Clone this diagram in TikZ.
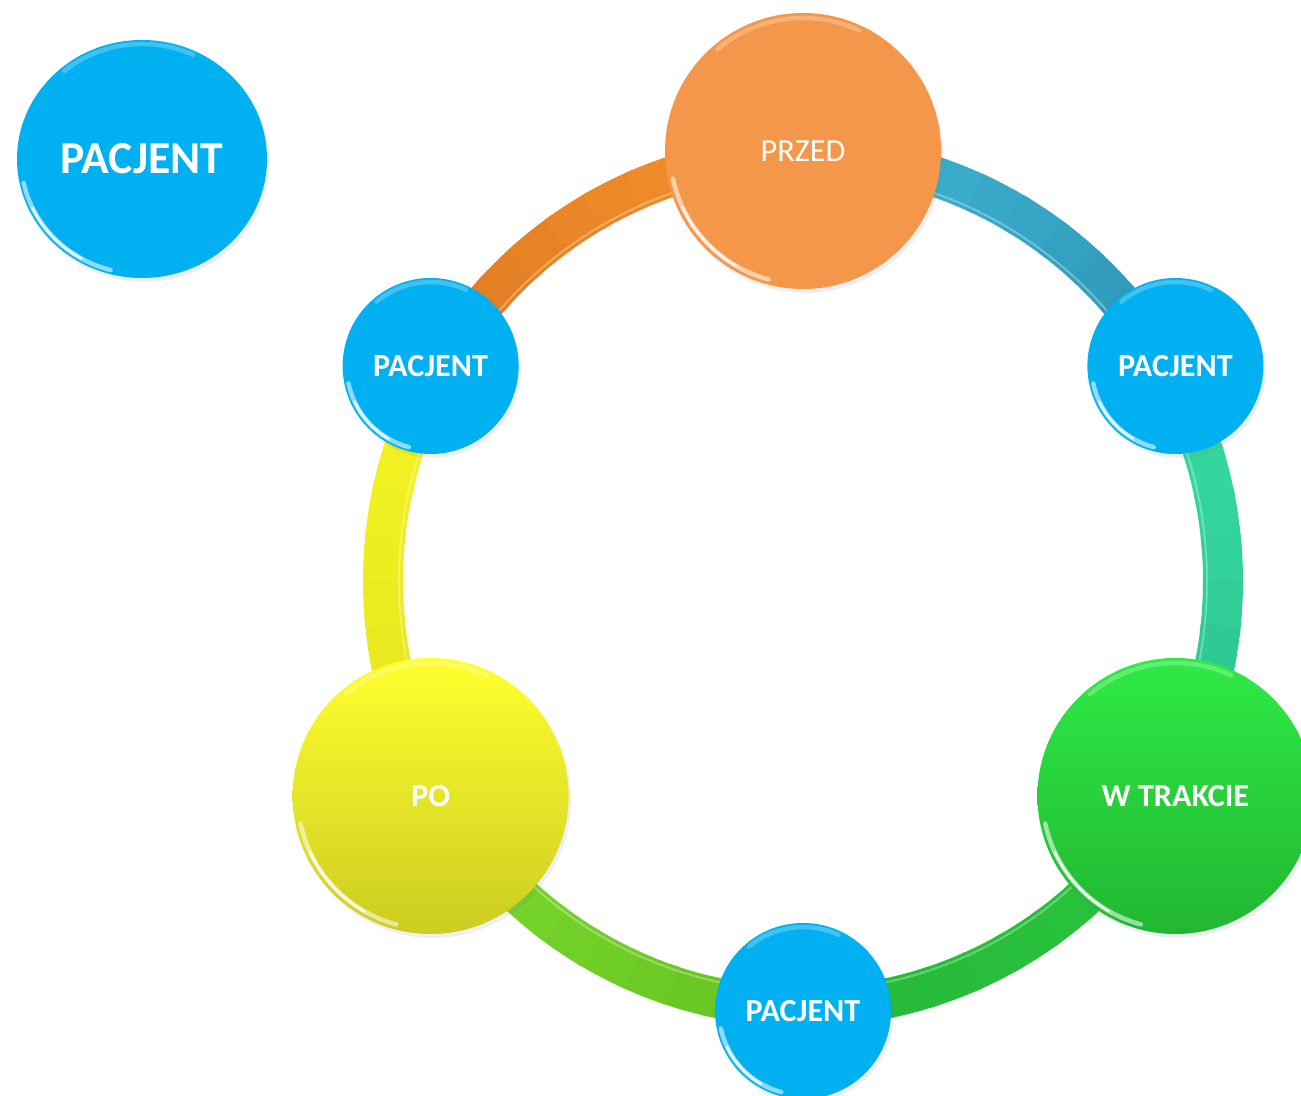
\documentclass[tikz,border=0pt]{standalone}
\usepackage{fontspec}
\setmainfont{Carlito}
\usetikzlibrary{positioning,calc,shapes.geometric,shadows}

\definecolor{pacblue}{HTML}{00B0F0}
\definecolor{przorange}{HTML}{F4974A}
\definecolor{wtA}{HTML}{2EEA46}
\definecolor{wtB}{HTML}{22B632}
\definecolor{poA}{HTML}{FFFF2E}
\definecolor{poB}{HTML}{CCCC22}
% ring colours, A = upper end, B = lower end
\definecolor{tealA}{HTML}{3DB6D6}
\definecolor{tealB}{HTML}{3096B6}
\definecolor{mintA}{HTML}{36DCA4}
\definecolor{mintB}{HTML}{2CC08C}
\definecolor{grnA}{HTML}{2AC43C}
\definecolor{grnB}{HTML}{26B838}
\definecolor{limeA}{HTML}{7CDA2C}
\definecolor{limeB}{HTML}{66C220}
\definecolor{yelA}{HTML}{F6F622}
\definecolor{yelB}{HTML}{E2E21E}
\definecolor{orgA}{HTML}{F7922C}
\definecolor{orgB}{HTML}{E07C22}

\begin{document}
\begin{tikzpicture}[
  x=0.2mm, y=0.2mm,
  bub/.style={circle, inner sep=0pt, text=white,
              font=\fontsize{18.3}{22}\selectfont\bfseries,
              drop shadow={opacity=0.13, shadow xshift=0.5mm, shadow yshift=-0.8mm}},
  pac/.style={bub, minimum size=35.2mm, fill=pacblue},
  hub/.style={bub, minimum size=55.2mm},
  band/.style={line width=8mm, line cap=butt},
  glint/.style={white, line width=0.9mm, line cap=round, opacity=0.55}
]
\useasboundingbox (0,0) rectangle (1301,1096);
\clip (0,0) rectangle (1301,1096);

\coordinate (C) at (803,515);

% ring, one band per step, shaded in short pieces
\foreach \a/\b/\ca/\cb in {90/30/tealA/tealB, 30/-30/mintA/mintB, -30/-90/grnA/grnB,
                           -90/-150/limeB/limeA, -150/-210/yelB/yelA, -210/-270/orgB/orgA} {
  \foreach \k in {0,...,9} {
    \pgfmathsetmacro\s{\a+(\b-\a)*\k/10}
    \pgfmathsetmacro\e{\a+(\b-\a)*(\k+1.2)/10}
    \pgfmathtruncatemacro\p{100-\k*11}
    \draw[band, \ca!\p!\cb] ($(C)+(\s:420 and 426)$)
      arc[start angle=\s, end angle=\e, x radius=420, y radius=426];
  }
}
\draw[white, opacity=0.3, line width=0.4mm] (C) ellipse[x radius=404, y radius=410];

% steps on the ring
\node[hub, fill=przorange, font=\fontsize{18.3}{22}\selectfont] (pz) at ($(C)+(90:430)$) {PRZED};
\node[pac] (p1) at ($(C)+(30:430)$) {PACJENT};
\node[hub, shading=axis, top color=wtA, bottom color=wtB] (wt) at ($(C)+(-30:430)$) {W TRAKCIE};
\node[pac] (p2) at ($(C)+(-90:430)$) {PACJENT};
\node[hub, shading=axis, top color=poA, bottom color=poB] (po) at ($(C)+(210:430)$) {PO};
\node[pac] (p3) at ($(C)+(150:430)$) {PACJENT};

% patient apart from the cycle
\node[bub, ellipse, fill=pacblue, minimum width=50mm, minimum height=47.6mm,
      font=\fontsize{26}{31}\selectfont\bfseries] (pac) at (142,937) {PACJENT};

% glossy rims
\foreach \n/\rx/\ry in {pz/133/133, wt/133/133, po/133/133, p1/84/84, p2/84/84, p3/84/84, pac/121/115} {
  \draw[glint] ($(\n.center)+(192:{\rx} and {\ry})$)
    arc[start angle=192, end angle=255, x radius=\rx, y radius=\ry];
  \draw[glint, opacity=0.8, line width=0.5mm] ($(\n.center)+(205:{\rx} and {\ry})$)
    arc[start angle=205, end angle=240, x radius=\rx, y radius=\ry];
  \draw[glint, opacity=0.25] ($(\n.center)+(65:{\rx} and {\ry})$)
    arc[start angle=65, end angle=130, x radius=\rx, y radius=\ry];
}
\end{tikzpicture}
\end{document}
